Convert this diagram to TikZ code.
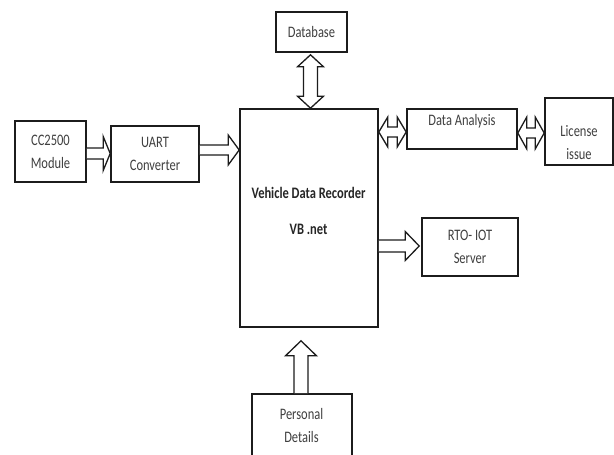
\documentclass[tikz,border=0pt]{standalone}
\usepackage{fontspec}
\usetikzlibrary{calc}
\newfontfamily\lab[FakeStretch=0.78]{Carlito}
\definecolor{ink}{HTML}{1C1C1C}
\definecolor{txtgray}{HTML}{3F3F3F}

% hollow block arrows: tail/tip points, shaft half width, head half width, head length
\newcommand\arrowRight[5]{%
  \draw[hollow] ($(#1)+(0,-#3)$) -- ($(#2)+(-#5,-#3)$) -- ($(#2)+(-#5,-#4)$) -- (#2)
    -- ($(#2)+(-#5,#4)$) -- ($(#2)+(-#5,#3)$) -- ($(#1)+(0,#3)$);}
\newcommand\arrowBothH[5]{%
  \draw[hollow] (#1) -- ($(#1)+(#5,-#4)$) -- ($(#1)+(#5,-#3)$) -- ($(#2)+(-#5,-#3)$)
    -- ($(#2)+(-#5,-#4)$) -- (#2) -- ($(#2)+(-#5,#4)$) -- ($(#2)+(-#5,#3)$)
    -- ($(#1)+(#5,#3)$) -- ($(#1)+(#5,#4)$) -- cycle;}
\newcommand\arrowBothV[5]{%
  \draw[hollow] (#1) -- ($(#1)+(#4,#5)$) -- ($(#1)+(#3,#5)$) -- ($(#2)+(#3,-#5)$)
    -- ($(#2)+(#4,-#5)$) -- (#2) -- ($(#2)+(-#4,-#5)$) -- ($(#2)+(-#3,-#5)$)
    -- ($(#1)+(-#3,#5)$) -- ($(#1)+(-#4,#5)$) -- cycle;}
\newcommand\arrowUp[5]{%
  \draw[hollow] ($(#1)+(-#3,0)$) -- ($(#2)+(-#3,#5)$) -- ($(#2)+(-#4,#5)$) -- (#2)
    -- ($(#2)+(#4,#5)$) -- ($(#2)+(#3,#5)$) -- ($(#1)+(#3,0)$);}

\begin{document}
\begin{tikzpicture}[x=1pt,y=-1pt,
  box/.style={draw=ink,line width=1.6pt,inner sep=0pt,fill=white},
  hollow/.style={draw=ink,line width=1.3pt,fill=white,line join=miter},
  txt/.style={text=txtgray,align=center,inner sep=0pt,
    font=\lab\fontsize{16}{23}\selectfont},
  bold/.style={txt,font=\lab\bfseries\fontsize{16}{23}\selectfont,text=black!85}]
\useasboundingbox (0,0) rectangle (614,455);
\fill[white] (0,0) rectangle (614,455);

% blocks
\node[box,minimum width=71pt,minimum height=40pt] (db) at (311.5,32) {};
\node[box,minimum width=71pt,minimum height=61pt] (cc) at (50.5,151.5) {};
\node[box,minimum width=88pt,minimum height=56pt] (uart) at (155,154) {};
\node[box,minimum width=138pt,minimum height=218pt] (main) at (309,218) {};
\node[box,minimum width=110pt,minimum height=40pt] (da) at (462,129) {};
\node[box,minimum width=68pt,minimum height=67pt] (lic) at (579,131.5) {};
\node[box,minimum width=96pt,minimum height=58pt] (rto) at (470,247) {};
\node[box,minimum width=100pt,minimum height=66pt] (pd) at (302,427) {};

% labels
\node[txt] (tdb) at (db) {Database};
\node[txt] (tcc) at ($(cc)+(0,0.5)$) {CC2500\\Module};
\node[txt] (tuart) at ($(uart)+(0,0)$) {UART\\Converter};
\node[txt] (tda) at ($(da)+(0,-8)$) {Data Analysis};
\node[txt] (tlic) at ($(lic)+(0,11)$) {License\\issue};
\node[txt] (trto) at ($(rto)+(0,-0.5)$) {RTO- IOT\\Server};
\node[bold] (tmain1) at (308.5,193) {Vehicle Data Recorder};
\node[bold] (tmain2) at (308.5,229) {VB .net};
\node[txt] (tpd) at (301.5,426) {Personal\\Details};

% arrow end points
\coordinate (c1) at ($(cc.east)+(0,2)$);
\coordinate (u1) at (c1 -| uart.west);
\coordinate (u2) at ($(uart.east)+(0,-4)$);
\coordinate (m1) at (u2 -| main.west);
\coordinate (d1) at ($(da.west)+(0,3)$);
\coordinate (m2) at (d1 -| main.east);
\coordinate (d2) at ($(da.east)+(0,4)$);
\coordinate (l1) at (d2 -| lic.west);
\coordinate (r1) at ($(rto.west)+(-2,-1)$);
\coordinate (m3) at (r1 -| main.east);
\coordinate (b1) at ($(db.south)+(-1,2)$);
\coordinate (m4) at (b1 |- main.north);
\coordinate (p1) at ($(pd.north)+(-1,0)$);
\coordinate (m5) at ($(p1 |- main.south)+(0,13)$);

% connectors
\arrowRight{c1}{u1}{5.5}{17}{7}
\arrowRight{u2}{m1}{5}{15}{11}
\arrowBothH{m2}{d1}{5}{15}{9}
\arrowBothH{d2}{l1}{5}{16}{9}
\arrowRight{m3}{r1}{6}{14.5}{14}
\arrowBothV{b1}{m4}{7}{13}{12}
\arrowUp{p1}{m5}{7}{15.5}{15}
\end{tikzpicture}
\end{document}
